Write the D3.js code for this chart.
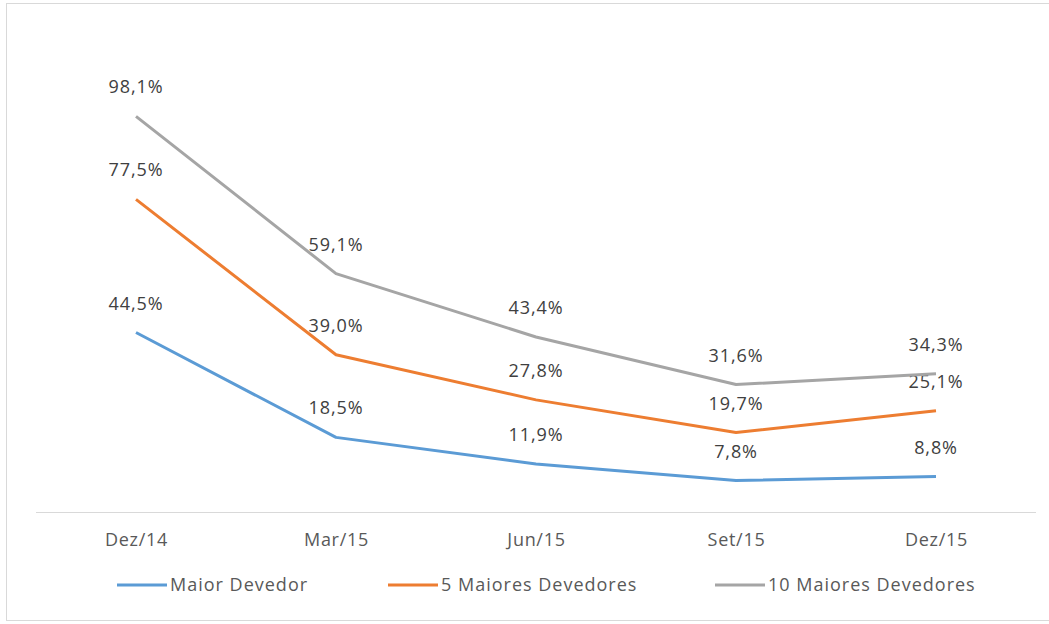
<!DOCTYPE html>
<html>
<head>
<meta charset="utf-8">
<script src="https://cdn.jsdelivr.net/npm/d3@7"></script>
<style>
  body { margin: 0; background: #fff; }
  svg { display: block; font-family: "Open Sans", "Noto Sans", sans-serif; }
</style>
</head>
<body>
<svg id="chart" width="1049" height="624"></svg>
<script>
const periods = ['Dez/14', 'Mar/15', 'Jun/15', 'Set/15', 'Dez/15']
const maiorDevedor = [44.5, 18.5, 11.9, 7.8, 8.8]
const cincoMaiores = [77.5, 39.0, 27.8, 19.7, 25.1]
const dezMaiores = [98.1, 59.1, 43.4, 31.6, 34.3]
const seriesNames = ['Maior Devedor', '5 Maiores Devedores', '10 Maiores Devedores']
const colors = ['#5b9bd5', '#ed7d31', '#a5a5a5']

const series = [maiorDevedor, cincoMaiores, dezMaiores]
const fmt = v => d3.format('.1f')(v).replace('.', ',') + '%'

const svg = d3.select('#chart')

// outer frame
svg.append('rect')
  .attr('x', 6.5).attr('y', 3.5)
  .attr('width', 1049).attr('height', 617)
  .attr('fill', 'none')
  .attr('stroke', '#d9d9d9')

const x = d3.scalePoint()
  .domain(periods)
  .range([136, 936])

const y = d3.scaleLinear()
  .domain([0, 120])
  .range([512, 28])

// baseline
svg.append('line')
  .attr('x1', 36).attr('x2', 1036)
  .attr('y1', y(0) + 0.5).attr('y2', y(0) + 0.5)
  .attr('stroke', '#d9d9d9')
  .attr('stroke-width', 1.2)

const xAxis = svg.append('g')
  .attr('transform', `translate(0, ${y(0)})`)
  .call(d3.axisBottom(x).tickSize(0).tickPadding(21))
xAxis.select('.domain').remove()
xAxis.selectAll('text')
  .attr('font-size', 18)
  .attr('letter-spacing', 0.7)
  .attr('fill', '#595959')
  .attr('font-family', '"Open Sans", sans-serif')

const line = d3.line()
  .x((d, i) => x(periods[i]))
  .y(d => y(d))

series.forEach((values, si) => {
  svg.append('path')
    .datum(values)
    .attr('fill', 'none')
    .attr('stroke', colors[si])
    .attr('stroke-width', 3)
    .attr('stroke-linejoin', 'round')
    .attr('d', line)

  svg.selectAll(null)
    .data(values)
    .enter()
    .append('text')
    .attr('x', (d, i) => x(periods[i]))
    .attr('y', d => y(d) - 23)
    .attr('text-anchor', 'middle')
    .attr('font-size', 18)
    .attr('letter-spacing', 0.9)
    .attr('fill', '#404040')
    .text(d => fmt(d))
})

// legend
const legendX = [117, 388, 715]
const legend = svg.selectAll('g.legend')
  .data(seriesNames)
  .enter()
  .append('g')
  .attr('class', 'legend')
  .attr('transform', (d, i) => `translate(${legendX[i]}, 585)`)

legend.append('line')
  .attr('x1', 0).attr('x2', 50)
  .attr('stroke', (d, i) => colors[i])
  .attr('stroke-width', 3)

legend.append('text')
  .attr('x', 53)
  .attr('dy', '0.35em')
  .attr('font-size', 18)
  .attr('letter-spacing', 1)
  .attr('fill', '#595959')
  .text(d => d)
</script>
</body>
</html>
